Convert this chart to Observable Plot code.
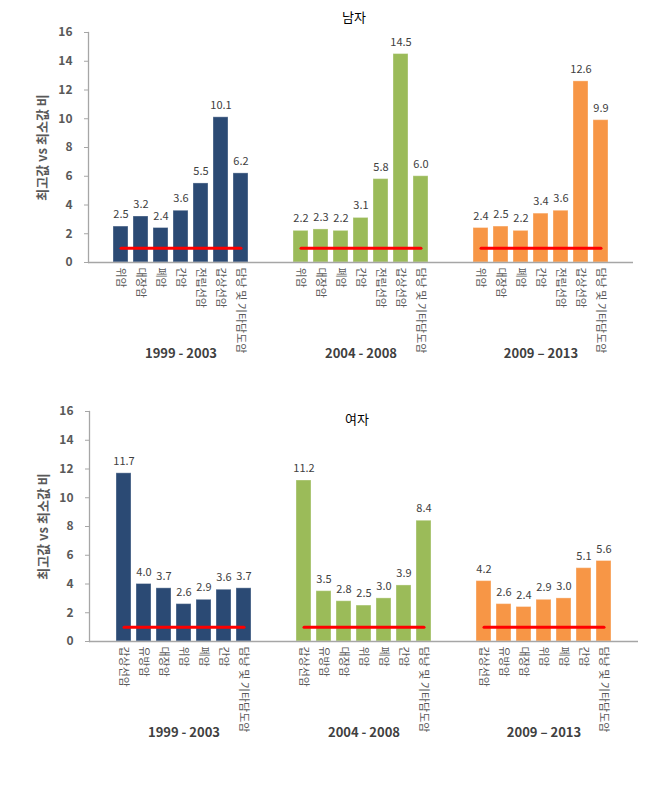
<!DOCTYPE html>
<html>
<head>
<meta charset="utf-8">
<script src="https://cdn.jsdelivr.net/npm/d3@7"></script>
<script src="https://cdn.jsdelivr.net/npm/@observablehq/plot@0.6"></script>
<style>
  html, body { margin: 0; padding: 0; background: #fff; }
  #charts svg { display: block; }
</style>
</head>
<body>
<div id="charts"></div>
<script>
const groups = ["1999 - 2003", "2004 - 2008", "2009 – 2013"];
const groupColors = ["#2b4a74", "#9bbb59", "#f79646"];
const referenceRatio = 1;
const yTicks = [0, 2, 4, 6, 8, 10, 12, 14, 16];
const yLabel = "최고값 vs 최소값 비";

const maleTitle = "남자";
const maleCancers = ["위암", "대장암", "폐암", "간암", "전립선암", "갑상선암", "담낭 및 기타담도암"];
const maleValues1999 = [2.5, 3.2, 2.4, 3.6, 5.5, 10.1, 6.2];
const maleValues2004 = [2.2, 2.3, 2.2, 3.1, 5.8, 14.5, 6.0];
const maleValues2009 = [2.4, 2.5, 2.2, 3.4, 3.6, 12.6, 9.9];

const femaleTitle = "여자";
const femaleCancers = ["갑상선암", "유방암", "대장암", "위암", "폐암", "간암", "담낭 및 기타담도암"];
const femaleValues1999 = [11.7, 4.0, 3.7, 2.6, 2.9, 3.6, 3.7];
const femaleValues2004 = [11.2, 3.5, 2.8, 2.5, 3.0, 3.9, 8.4];
const femaleValues2009 = [4.2, 2.6, 2.4, 2.9, 3.0, 5.1, 5.6];

const FONT = "'Noto Sans CJK KR', 'Noto Sans', sans-serif";

function makeChart({title, cancers, series, height, marginTop, marginBottom, marginLeft, marginRight, paddingOuter, titleDy}) {
  const rows = [];
  const domain = [];
  groups.forEach((g, gi) => {
    cancers.forEach((c, ci) => {
      const key = g + "|" + c;
      domain.push(key);
      rows.push({group: g, cancer: c, key, value: series[gi][ci]});
    });
    if (gi < groups.length - 1) domain.push("gap" + gi + "a", "gap" + gi + "b");
  });
  const midCancer = cancers[3];
  return Plot.plot({
    width: 670,
    height,
    marginTop, marginBottom, marginLeft, marginRight,
    style: {fontFamily: FONT, background: "#fff", overflow: "visible"},
    x: {domain, paddingInner: 0.23, paddingOuter, axis: null},
    y: {domain: [0, 16], axis: null},
    color: {domain: groups, range: groupColors},
    marks: [
      Plot.barY(rows, {x: "key", y: "value", fill: "group", stroke: "#ffffff", strokeOpacity: 0.35, strokeWidth: 1}),
      Plot.lineY(rows, {x: "key", y: () => referenceRatio, z: "group", stroke: "#ff0000", strokeWidth: 3}),
      Plot.text(rows, {x: "key", y: "value", text: d => d.value.toFixed(1), dy: -12, fontSize: 11, fill: "#404040"}),
      Plot.ruleY([0], {stroke: "#a6a6a6", strokeWidth: 1.3}),
      Plot.frame({anchor: "left", stroke: "#a6a6a6", strokeWidth: 1.3}),
      Plot.axisY({ticks: yTicks, tickSize: 4, tickPadding: 12, fontSize: 12, fontWeight: "bold", fill: "#595959", stroke: "#a6a6a6", label: null}),
      // category tick labels, rotated to read top-to-bottom
      Plot.text(rows, {
        x: "key", text: "cancer", frameAnchor: "bottom", dy: 5,
        rotate: 90, textAnchor: "start", lineAnchor: "middle",
        fontSize: 11, fill: "#595959"
      }),
      Plot.text([yLabel], {frameAnchor: "left", textAnchor: "middle", lineAnchor: "middle", rotate: -90, dx: -46, fontSize: 13, fontWeight: "bold", fill: "#595959"}),
      Plot.text(groups, {x: g => g + "|" + midCancer, frameAnchor: "bottom", lineAnchor: "middle", dy: 91, fontSize: 13, fontWeight: "bold", fill: "#404040"}),
      Plot.text([title], {frameAnchor: "top", lineAnchor: "middle", dx: -7, dy: titleDy, fontSize: 13, fill: "#000"})
    ]
  });
}

const holder = document.getElementById("charts");
holder.append(makeChart({
  title: maleTitle, cancers: maleCancers,
  series: [maleValues1999, maleValues2004, maleValues2009],
  height: 390, marginTop: 32, marginBottom: 128, marginLeft: 88, marginRight: 37,
  paddingOuter: 1.115, titleDy: -15
}));
holder.append(makeChart({
  title: femaleTitle, cancers: femaleCancers,
  series: [femaleValues1999, femaleValues2004, femaleValues2009],
  height: 402, marginTop: 21, marginBottom: 151, marginLeft: 89, marginRight: 32,
  paddingOuter: 1.15, titleDy: 8
}));
</script>
</body>
</html>
